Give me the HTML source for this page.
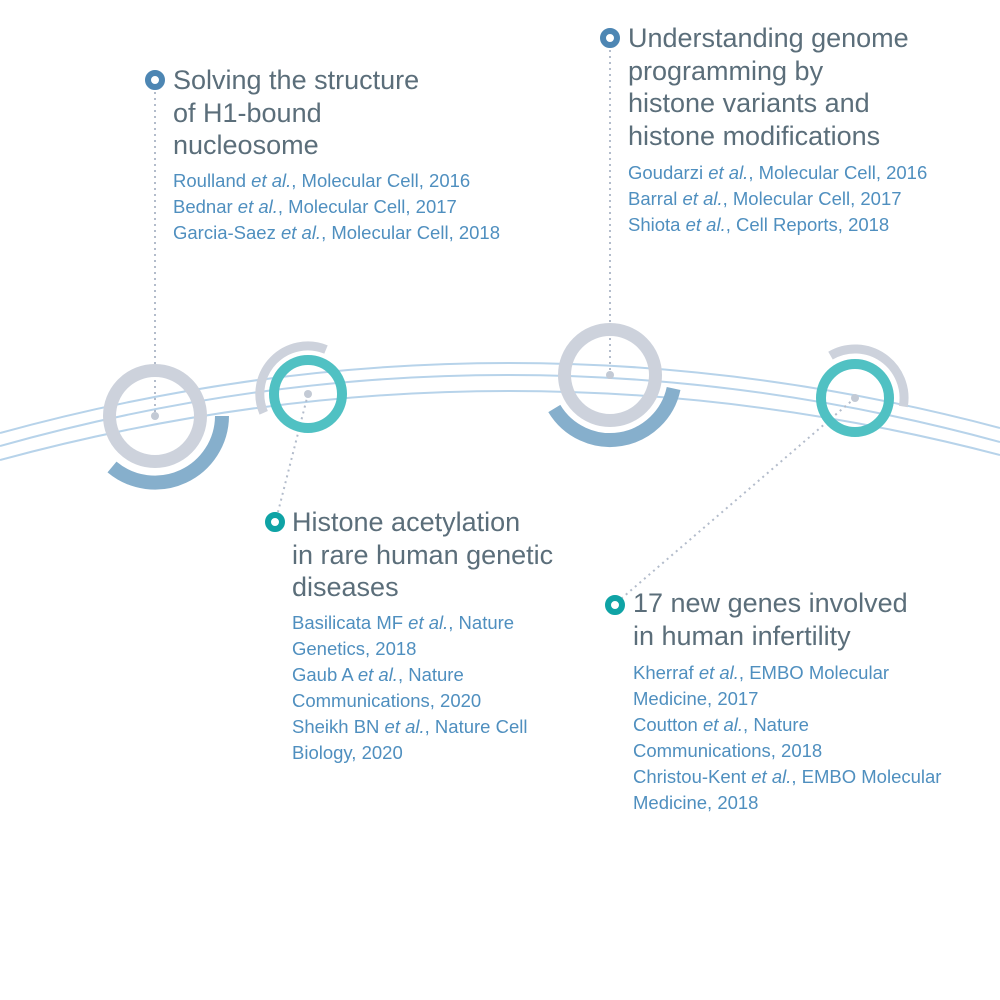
<!DOCTYPE html>
<html><head><meta charset="utf-8"><style>
body{margin:0;width:1000px;height:1000px;background:#fff;position:relative;overflow:hidden;font-family:"Liberation Sans",sans-serif}
.h{position:absolute;color:#5b6e7a;font-size:27px;line-height:32.5px;white-space:nowrap}
.r{position:absolute;color:#4f8fbf;font-size:18.5px;line-height:26px;white-space:nowrap}
svg{position:absolute;left:0;top:0}
</style></head><body>
<svg width="1000" height="1000" viewBox="0 0 1000 1000">
<g fill="none" stroke="#b7d3ea" stroke-width="2">
<path d="M0,433 Q500,295.5 1000,428"/>
<path d="M0,446 Q500,306 1000,442"/>
<path d="M0,460 Q500,324.5 1000,455"/>
</g>
<g fill="none" stroke="#b3bccb" stroke-width="2" stroke-dasharray="2,4">
<line x1="155" y1="92" x2="155" y2="416"/>
<line x1="610" y1="50" x2="610" y2="375"/>
<line x1="308" y1="394" x2="278" y2="512"/>
<line x1="855" y1="398" x2="622" y2="598"/>
</g>
<circle cx="155" cy="416" r="45.5" fill="none" stroke="#cdd2dc" stroke-width="13"/>
<path d="M222,416 A67,67 0 0 1 112,467" fill="none" stroke="#86afcc" stroke-width="14"/>
<circle cx="155" cy="416" r="4" fill="#c3cad5"/>
<path d="M263.7,412.8 A48,48 0 0 1 326,349.5" fill="none" stroke="#cdd2dc" stroke-width="9"/>
<circle cx="308" cy="394" r="34" fill="none" stroke="#50c1c3" stroke-width="10"/>
<circle cx="308" cy="394" r="4" fill="#c3cad5"/>
<circle cx="610" cy="375" r="45.5" fill="none" stroke="#cdd2dc" stroke-width="13"/>
<path d="M673.6,388.5 A65,65 0 0 1 554.3,408.5" fill="none" stroke="#86afcc" stroke-width="14"/>
<circle cx="610" cy="375" r="4" fill="#c3cad5"/>
<path d="M830.5,355.6 A49,49 0 0 1 903.3,406.5" fill="none" stroke="#cdd2dc" stroke-width="9"/>
<circle cx="855" cy="398" r="34" fill="none" stroke="#50c1c3" stroke-width="10"/>
<circle cx="855" cy="398" r="4" fill="#c3cad5"/>
<circle cx="155" cy="80" r="7" fill="#fff" stroke="#4d86b3" stroke-width="6"/>
<circle cx="610" cy="38" r="7" fill="#fff" stroke="#4d86b3" stroke-width="6"/>
<circle cx="275" cy="522" r="7" fill="#fff" stroke="#0fa3a5" stroke-width="6"/>
<circle cx="615" cy="605" r="7" fill="#fff" stroke="#0fa3a5" stroke-width="6"/>
</svg>

<div class="h" style="left:173px;top:64px">Solving the structure<br>of H1-bound<br>nucleosome</div>
<div class="r" style="left:173px;top:168px">Roulland <i>et al.</i>, Molecular Cell, 2016<br>Bednar <i>et al.</i>, Molecular Cell, 2017<br>Garcia-Saez <i>et al.</i>, Molecular Cell, 2018</div>

<div class="h" style="left:628px;top:22px">Understanding genome<br>programming by<br>histone variants and<br>histone modifications</div>
<div class="r" style="left:628px;top:160px">Goudarzi <i>et al.</i>, Molecular Cell, 2016<br>Barral <i>et al.</i>, Molecular Cell, 2017<br>Shiota <i>et al.</i>, Cell Reports, 2018</div>

<div class="h" style="left:292px;top:506px">Histone acetylation<br>in rare human genetic<br>diseases</div>
<div class="r" style="left:292px;top:610px">Basilicata MF <i>et al.</i>, Nature<br>Genetics, 2018<br>Gaub A <i>et al.</i>, Nature<br>Communications, 2020<br>Sheikh BN <i>et al.</i>, Nature Cell<br>Biology, 2020</div>

<div class="h" style="left:633px;top:587px">17 new genes involved<br>in human infertility</div>
<div class="r" style="left:633px;top:660px">Kherraf <i>et al.</i>, EMBO Molecular<br>Medicine, 2017<br>Coutton <i>et al.</i>, Nature<br>Communications, 2018<br>Christou-Kent <i>et al.</i>, EMBO Molecular<br>Medicine, 2018</div>
</body></html>
